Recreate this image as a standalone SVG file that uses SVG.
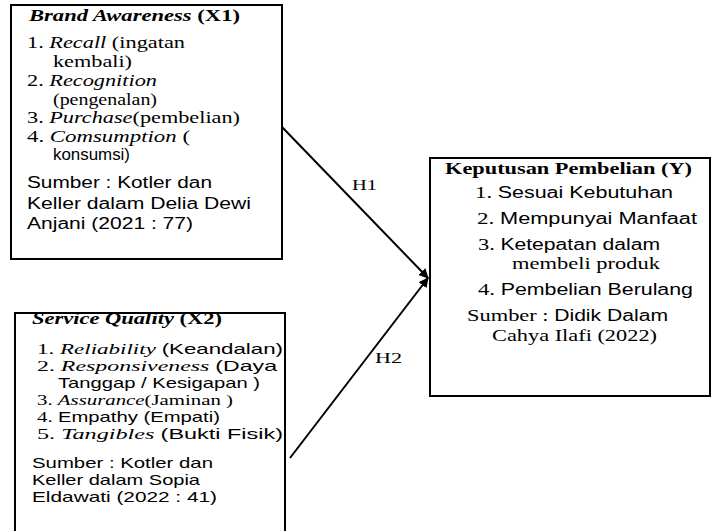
<svg xmlns="http://www.w3.org/2000/svg" width="713" height="531" viewBox="0 0 713 531">
<style>
.box{fill:#fff;stroke:#000;stroke-width:2}
text{fill:#000;font-size:17px}
.s{font-family:"Liberation Serif","Times New Roman",serif}
.a{font-family:"Liberation Sans",Arial,sans-serif;font-size:16px}
.sm{font-size:15.5px}
.sm .a,.sm.a{font-size:15px}
.i{font-style:italic}
.b{font-weight:bold}
.conn{stroke:#000;stroke-width:2;fill:none}
.lbl{font-family:"Liberation Serif",serif;font-size:15px}
</style>
<defs>
<marker id="arr" viewBox="0 0 10 10" refX="9" refY="5" markerWidth="5" markerHeight="5" orient="auto" markerUnits="strokeWidth">
<path d="M0,0 L10,5 L0,10 z" fill="#000"/>
</marker>
</defs>
<g id="connectors">
<line class="conn" x1="282" y1="127" x2="428" y2="278" marker-end="url(#arr)"/>
<line class="conn" x1="290" y1="458" x2="428" y2="278" marker-end="url(#arr)"/>
<text class="lbl" x="352" y="190" textLength="25" lengthAdjust="spacingAndGlyphs">H1</text>
<text class="lbl" x="375" y="363" textLength="27" lengthAdjust="spacingAndGlyphs">H2</text>
</g>
<g id="brand-awareness">
<rect class="box" x="11" y="5" width="271" height="254"/>
<text class="s b" x="29" y="21" textLength="211" lengthAdjust="spacingAndGlyphs"><tspan class="i">Brand Awareness</tspan> (X1)</text>
<text class="s" x="27" y="48" textLength="158" lengthAdjust="spacingAndGlyphs">1. <tspan class="i">Recall</tspan> (ingatan</text>
<text class="s" x="53" y="67" textLength="79" lengthAdjust="spacingAndGlyphs">kembali)</text>
<text class="s" x="27" y="86" textLength="130" lengthAdjust="spacingAndGlyphs">2. <tspan class="i">Recognition</tspan></text>
<text class="s" x="53" y="105" textLength="104" lengthAdjust="spacingAndGlyphs">(pengenalan)</text>
<text class="s" x="27" y="123" textLength="213" lengthAdjust="spacingAndGlyphs">3. <tspan class="i">Purchase</tspan>(pembelian)</text>
<text class="s" x="27" y="142" textLength="163" lengthAdjust="spacingAndGlyphs">4. <tspan class="i">Comsumption</tspan> (</text>
<text class="a" x="53" y="160" textLength="77" lengthAdjust="spacingAndGlyphs">konsumsi)</text>
<text class="a" x="27" y="188" textLength="185" lengthAdjust="spacingAndGlyphs">Sumber : Kotler dan</text>
<text class="a" x="27" y="209" textLength="224" lengthAdjust="spacingAndGlyphs">Keller dalam Delia Dewi</text>
<text class="a" x="27" y="229" textLength="166" lengthAdjust="spacingAndGlyphs">Anjani (2021 : 77)</text>
</g>
<g id="service-quality">
<rect class="box" x="15" y="313" width="270" height="230"/>
<text class="s b" x="32" y="324" textLength="190" lengthAdjust="spacingAndGlyphs"><tspan class="i">Service Quality</tspan> (X2)</text>
<text class="s sm" x="37" y="354" textLength="246" lengthAdjust="spacingAndGlyphs">1. <tspan class="i">Reliability</tspan> <tspan class="a">(Keandalan)</tspan></text>
<text class="s sm" x="37" y="371" textLength="240" lengthAdjust="spacingAndGlyphs">2. <tspan class="i">Responsiveness</tspan> <tspan class="a">(Daya</tspan></text>
<text class="a sm" x="58" y="388" textLength="202" lengthAdjust="spacingAndGlyphs">Tanggap / Kesigapan )</text>
<text class="s sm" x="37" y="405" textLength="196" lengthAdjust="spacingAndGlyphs">3. <tspan class="i">Assurance</tspan>(Jaminan )</text>
<text class="s sm" x="37" y="422" textLength="183" lengthAdjust="spacingAndGlyphs">4. <tspan class="a">Empathy (Empati)</tspan></text>
<text class="s sm" x="37" y="439" textLength="246" lengthAdjust="spacingAndGlyphs">5. <tspan class="i">Tangibles</tspan> <tspan class="a">(Bukti Fisik)</tspan></text>
<text class="a sm" x="32" y="468" textLength="181" lengthAdjust="spacingAndGlyphs">Sumber : Kotler dan</text>
<text class="a sm" x="32" y="485" textLength="168" lengthAdjust="spacingAndGlyphs">Keller dalam Sopia</text>
<text class="a sm" x="32" y="502" textLength="185" lengthAdjust="spacingAndGlyphs">Eldawati (2022 : 41)</text>
</g>
<g id="keputusan-pembelian">
<rect class="box" x="430" y="158" width="280" height="238"/>
<text class="s b" x="445" y="174" textLength="247" lengthAdjust="spacingAndGlyphs">Keputusan Pembelian (Y)</text>
<text class="s" x="475" y="198" textLength="198" lengthAdjust="spacingAndGlyphs">1. <tspan class="a">Sesuai Kebutuhan</tspan></text>
<text class="s" x="477" y="224" textLength="220" lengthAdjust="spacingAndGlyphs">2. <tspan class="a">Mempunyai Manfaat</tspan></text>
<text class="s" x="478" y="250" textLength="182" lengthAdjust="spacingAndGlyphs">3. <tspan class="a">Ketepatan dalam</tspan></text>
<text class="s" x="512" y="269" textLength="148" lengthAdjust="spacingAndGlyphs">membeli produk</text>
<text class="s" x="478" y="295" textLength="215" lengthAdjust="spacingAndGlyphs">4. <tspan class="a">Pembelian Berulang</tspan></text>
<text class="s" x="467" y="321" textLength="201" lengthAdjust="spacingAndGlyphs">Sumber : <tspan class="a">Didik Dalam</tspan></text>
<text class="s" x="492" y="341" textLength="165" lengthAdjust="spacingAndGlyphs">Cahya Ilafi (2022)</text>
</g>
</svg>
